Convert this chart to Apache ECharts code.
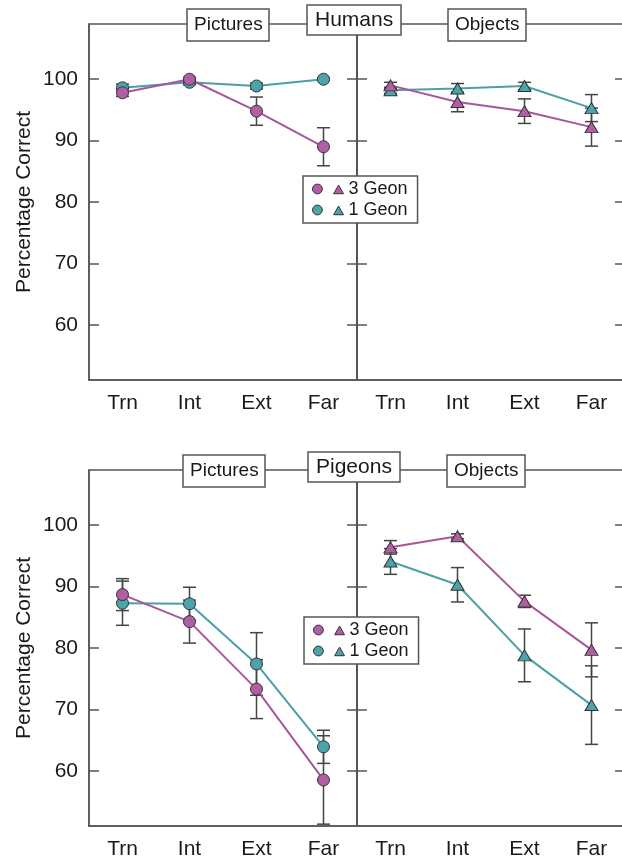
<!DOCTYPE html>
<html>
<head>
<meta charset="utf-8">
<script src="https://cdn.jsdelivr.net/npm/echarts@6/dist/echarts.min.js"></script>
<style>
html,body{margin:0;padding:0;background:#fff;}
#chart{width:622px;height:860px;}
</style>
</head>
<body>
<div id="chart"></div>
<script>
// ---------- data ----------
const categories = ['Trn', 'Int', 'Ext', 'Far'];
const yTickValues = [60, 70, 80, 90, 100];
const legendNames = ['3 Geon', '1 Geon'];
const panelTitles = ['Pictures', 'Objects'];
const groupTitles = ['Humans', 'Pigeons'];
const yAxisName = 'Percentage Correct';

// Humans – Pictures
const humPic3 = [97.8, 100.0, 94.8, 89.0];
const humPic3Err = [0.6, 0.3, 2.3, 3.1];
const humPic1 = [98.6, 99.5, 98.9, 100.0];
const humPic1Err = [0.6, 0.4, 0.5, 0.2];
// Humans – Objects
const humObj3 = [99.0, 96.3, 94.8, 92.2];
const humObj3Err = [0.5, 1.6, 2.0, 3.1];
const humObj1 = [98.2, 98.5, 98.9, 95.3];
const humObj1Err = [0.5, 0.8, 0.6, 2.2];
// Pigeons – Pictures
const pigPic3 = [88.7, 84.3, 73.3, 58.5];
const pigPic3Err = [2.6, 3.5, 4.8, 7.2];
const pigPic1 = [87.3, 87.2, 77.4, 63.9];
const pigPic1Err = [3.6, 2.7, 5.1, 2.7];
// Pigeons – Objects
const pigObj3 = [96.4, 98.2, 87.6, 79.7];
const pigObj3Err = [1.1, 0.4, 1.0, 4.4];
const pigObj1 = [94.1, 90.3, 78.8, 70.7];
const pigObj1Err = [2.1, 2.8, 4.3, 6.4];

// ---------- style ----------
const FONT = "'Liberation Sans', Arial, Helvetica, sans-serif";
const AXIS = '#555';
const TEXT = '#1a1a1a';
const MAG_LINE = '#a8569a', MAG_FILL = '#b25ea5';
const TEAL_LINE = '#4b9fa6', TEAL_FILL = '#4ca4ab';
const YMIN = 51, YMAX = 109;

const chart = echarts.init(document.getElementById('chart'), null, {renderer: 'canvas'});

const gridPos = [
  {left: 89, top: 24}, {left: 357, top: 24},
  {left: 89, top: 470}, {left: 357, top: 470}
];
const grids = gridPos.map(g => ({
  left: g.left, top: g.top, width: 268, height: 356,
  containLabel: false, outerBoundsMode: 'none',
  show: true, borderColor: AXIS, borderWidth: 1.5, backgroundColor: 'transparent'
}));

const xAxes = gridPos.map((g, i) => ({
  gridIndex: i, type: 'category', data: categories, boundaryGap: true,
  axisLine: {lineStyle: {color: AXIS, width: 1.5}},
  axisTick: {inside: true, alignWithLabel: true, length: 8, lineStyle: {color: AXIS, width: 1.5}},
  axisLabel: {fontSize: 21, color: TEXT, margin: 13, fontFamily: FONT},
  splitLine: {show: false}
}));

const yAxes = [];
gridPos.forEach((g, i) => {
  const isLeftPanel = (i % 2 === 0);
  ['left', 'right'].forEach(pos => {
    const showLabel = isLeftPanel && pos === 'left';
    const ax = {
      gridIndex: i, type: 'value', position: pos, min: YMIN, max: YMAX,
      axisLine: {show: true, lineStyle: {color: AXIS, width: 1.5}},
      axisTick: {show: true, inside: true, length: 10, customValues: yTickValues, lineStyle: {color: AXIS, width: 1.5}},
      axisLabel: {show: showLabel, customValues: yTickValues, fontSize: 21, color: TEXT, margin: 11, fontFamily: FONT},
      splitLine: {show: false}
    };
    if (showLabel) {
      ax.name = yAxisName;
      ax.nameLocation = 'middle';
      ax.nameRotate = 90;
      ax.nameGap = 54;
      ax.nameTextStyle = {fontSize: 21, color: TEXT, fontFamily: FONT};
    }
    yAxes.push(ax);
  });
});

function errRender(params, api) {
  const x = api.value(0), lo = api.value(1), hi = api.value(2);
  const p1 = api.coord([x, hi]);
  const p2 = api.coord([x, lo]);
  const hw = 6.5;
  const style = {stroke: '#444', lineWidth: 1.5, fill: null};
  return {
    type: 'group',
    children: [
      {type: 'line', shape: {x1: p1[0], y1: p1[1], x2: p2[0], y2: p2[1]}, style: style},
      {type: 'line', shape: {x1: p1[0] - hw, y1: p1[1], x2: p1[0] + hw, y2: p1[1]}, style: style},
      {type: 'line', shape: {x1: p2[0] - hw, y1: p2[1], x2: p2[0] + hw, y2: p2[1]}, style: style}
    ]
  };
}

const panels = [
  {grid: 0, sym: 'circle', s3: humPic3, e3: humPic3Err, s1: humPic1, e1: humPic1Err},
  {grid: 1, sym: 'triangle', s3: humObj3, e3: humObj3Err, s1: humObj1, e1: humObj1Err},
  {grid: 2, sym: 'circle', s3: pigPic3, e3: pigPic3Err, s1: pigPic1, e1: pigPic1Err},
  {grid: 3, sym: 'triangle', s3: pigObj3, e3: pigObj3Err, s1: pigObj1, e1: pigObj1Err}
];

const series = [];
panels.forEach(p => {
  const yIdx = p.grid * 2;
  const symSize = p.sym === 'circle' ? 12 : [13, 11];
  const defs = [
    {name: legendNames[1], vals: p.s1, errs: p.e1, line: TEAL_LINE, fill: TEAL_FILL},
    {name: legendNames[0], vals: p.s3, errs: p.e3, line: MAG_LINE, fill: MAG_FILL}
  ];
  defs.forEach(d => {
    series.push({
      name: d.name + ' err ' + p.grid, type: 'custom',
      xAxisIndex: p.grid, yAxisIndex: yIdx, z: 3,
      renderItem: errRender,
      encode: {x: 0, y: [1, 2]},
      data: d.vals.map((v, k) => [k, v - d.errs[k], v + d.errs[k]])
    });
  });
  defs.forEach(d => {
    series.push({
      name: d.name, type: 'line',
      xAxisIndex: p.grid, yAxisIndex: yIdx, z: 5,
      data: d.vals,
      symbol: p.sym, symbolSize: symSize,
      lineStyle: {color: d.line, width: 2},
      itemStyle: {color: d.fill, borderColor: '#333', borderWidth: 1},
      emphasis: {disabled: true}
    });
  });
});

function makeTitle(text, left, top, big) {
  return {
    text: text, left: left, top: top,
    padding: big ? [4, 8] : [6, 7],
    borderColor: AXIS, borderWidth: 1.5, backgroundColor: '#fff',
    textStyle: {fontSize: big ? 21 : 19, lineHeight: big ? 22 : 20, fontWeight: 'normal', color: TEXT, fontFamily: FONT},
    z: 8
  };
}
const titles = [
  makeTitle(panelTitles[0], 187, 9, false),
  makeTitle(groupTitles[0], 307, 5, true),
  makeTitle(panelTitles[1], 448, 9, false),
  makeTitle(panelTitles[0], 183, 455, false),
  makeTitle(groupTitles[1], 308, 452, true),
  makeTitle(panelTitles[1], 447, 455, false)
];

const legendIcon = 'path://M0,5 A5,5 0 1,1 10,5 A5,5 0 1,1 0,5 Z M26.5,1 L31.5,9.8 L21.5,9.8 Z';
function makeLegend(left, top) {
  return {
    left: left, top: top, orient: 'vertical',
    data: legendNames, icon: legendIcon,
    itemWidth: 31, itemHeight: 10, itemGap: 3,
    padding: [4, 10, 4, 9],
    borderColor: AXIS, borderWidth: 1.5, backgroundColor: '#fff',
    textStyle: {fontSize: 18, lineHeight: 18, color: TEXT, fontFamily: FONT},
    itemStyle: {borderColor: '#333', borderWidth: 1},
    selectedMode: false, z: 8
  };
}

chart.setOption({
  animation: false,
  backgroundColor: '#fff',
  textStyle: {fontFamily: FONT},
  title: titles,
  legend: [makeLegend(303, 176), makeLegend(304, 617)],
  grid: grids,
  xAxis: xAxes,
  yAxis: yAxes,
  series: series
});
</script>
</body>
</html>
